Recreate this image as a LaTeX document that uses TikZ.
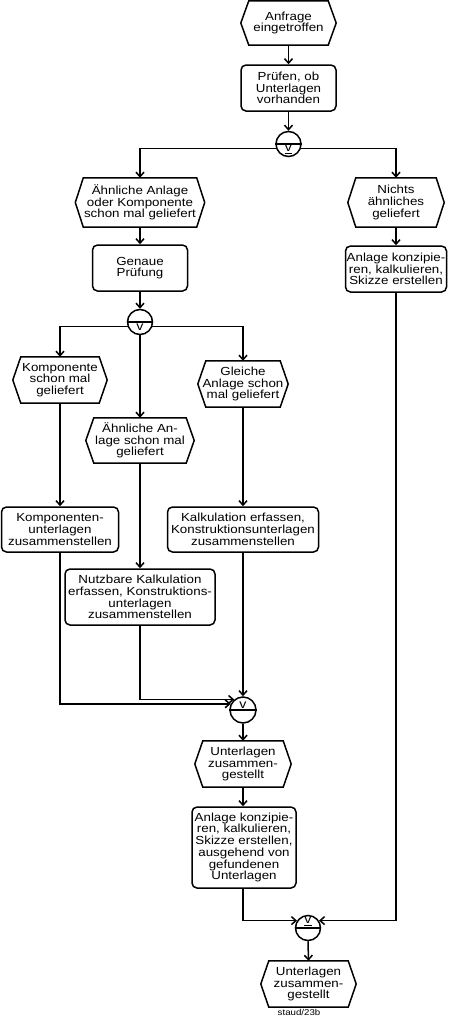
\documentclass[tikz,border=0pt]{standalone}
\usepackage{fontspec}
\setmainfont{Liberation Sans}[FakeStretch=1.14]
\usetikzlibrary{arrows.meta,calc}
\begin{document}
\begin{tikzpicture}[x=1pt,y=-1pt,
 ln/.style={line width=1.5pt},
 arr/.style={ln,-{Straight Barb[length=4.5pt,width=8pt]}},
 txt/.style={align=center, inner sep=0pt, font=\fontsize{11.7}{11.7}\selectfont},
 evt/.style={txt, minimum height=46pt},
 fn/.style={txt, draw, ln, rounded corners=5pt, minimum height=46pt},
 conn/.style={circle, draw, ln, minimum size=25pt, inner sep=0pt},
 sym/.style={inner sep=0pt, font=\fontsize{12.5}{12.5}\selectfont}
]
\useasboundingbox (0,0) rectangle (449,1018);
\node[evt, minimum width=95pt, minimum height=44pt] (e1) at (288.5,23) {Anfrage\\eingetroffen};
\node[fn, minimum width=95pt] (f1) at (288.5,88) {Prüfen, ob\\Unterlagen\\vorhanden};
\node[conn] (c1) at (288.5,144) {};
\node[evt, minimum width=129pt, minimum height=49pt] (e2) at (140,202.5) {Ähnliche Anlage\\oder Komponente\\schon mal geliefert};
\node[evt, minimum width=96pt, minimum height=49pt] (e3) at (396,202.5) {Nichts\\ähnliches\\geliefert};
\node[fn, minimum width=95pt] (f2) at (140,268) {Genaue\\Prüfung};
\node[fn, minimum width=101pt] (f3) at (396,269) {Anlage konzipie-\\ren, kalkulieren,\\Skizze erstellen};
\node[conn] (c2) at (140,322) {};
\node[evt, minimum width=94pt] (e4) at (60,380) {Komponente\\schon mal\\geliefert};
\node[evt, minimum width=108pt, minimum height=45pt] (e5) at (140,440.5) {Ähnliche An-\\lage schon mal\\geliefert};
\node[evt, minimum width=90pt] (e6) at (243,384) {Gleiche\\Anlage schon\\mal geliefert};
\node[fn, minimum width=117pt, minimum height=45pt] (f4) at (60,529.5) {Komponenten-\\unterlagen\\zusammenstellen};
\node[fn, minimum width=151pt, minimum height=45pt] (f6) at (243,529.5) {Kalkulation erfassen,\\Konstruktionsunterlagen\\zusammenstellen};
\node[fn, minimum width=150pt, minimum height=56pt] (f5) at (140,597) {Nutzbare Kalkulation\\erfassen, Konstruktions-\\unterlagen\\zusammenstellen};
\node[conn, minimum size=26pt] (c3) at (243,710) {};
\node[evt, minimum width=96pt] (e7) at (243,764) {Unterlagen\\zusammen-\\gestellt};
\node[fn, minimum width=104pt, minimum height=81pt] (f7) at (244,847.5) {Anlage konzipie-\\ren, kalkulieren,\\Skizze erstellen,\\ausgehend von\\gefundenen\\Unterlagen};
\node[conn] (c4) at (308,928) {};
\node[evt, minimum width=95pt] (e8) at (308.5,984) {Unterlagen\\zusammen-\\gestellt};
\node[inner sep=0pt, font=\fontsize{8.5}{8.5}\selectfont] (lbl) at (299,1012.5) {staud/23b};
\foreach \e in {e1,e2,e3,e4,e5,e6,e7,e8}
  \draw[ln] ([xshift=8pt]\e.north west) -- ([xshift=-8pt]\e.north east) -- (\e.east) -- ([xshift=-8pt]\e.south east) -- ([xshift=8pt]\e.south west) -- (\e.west) -- cycle;
\foreach \c in {c1,c2,c3,c4} \draw[ln] (\c.west) -- (\c.east);
\node[sym] (s1) at ($(c1.center)+(0,5.5)$) {\underline{v}};
\node[sym] (s2) at ($(c2.center)+(0,5.5)$) {v};
\node[sym] (s3) at ($(c3.center)+(0,-5)$) {v};
\node[sym] (s4) at ($(c4.center)+(0,-6.8)$) {\underline{v}};
\draw[arr] (e1.south) -- (f1.north);
\draw[arr] (f1.south) -- (c1.north);
\draw[arr] (c1.200) -| (e2.north);
\draw[arr] (c1.340) -| (e3.north);
\draw[arr] (e2.south) -- (f2.north);
\draw[arr] (e3.south) -- (f3.north);
\draw[arr] (f2.south) -- (c2.north);
\draw[arr] (c2.200) -| (e4.north);
\draw[arr] (c2.340) -| (e6.north);
\draw[arr] (c2.south) -- (e5.north);
\draw[arr] (e4.south) -- (f4.north);
\draw[arr] (e5.south) -- (f5.north);
\draw[arr] (e6.south) -- (f6.north);
\draw[arr] (f4.south) |- (c3.153);
\draw[arr] (f5.south) |- (c3.130);
\draw[arr] (f6.south) -- (c3.north);
\draw[arr] (c3.south) -- (e7.north);
\draw[arr] (e7.south) -- (e7.south |- f7.north);
\draw[arr] (f7.south -| e7.south) |- (c4.146);
\draw[arr] (f3.south) |- (c4.34);
\draw[arr] (c4.south) -- (e8.north);
\end{tikzpicture}
\end{document}
